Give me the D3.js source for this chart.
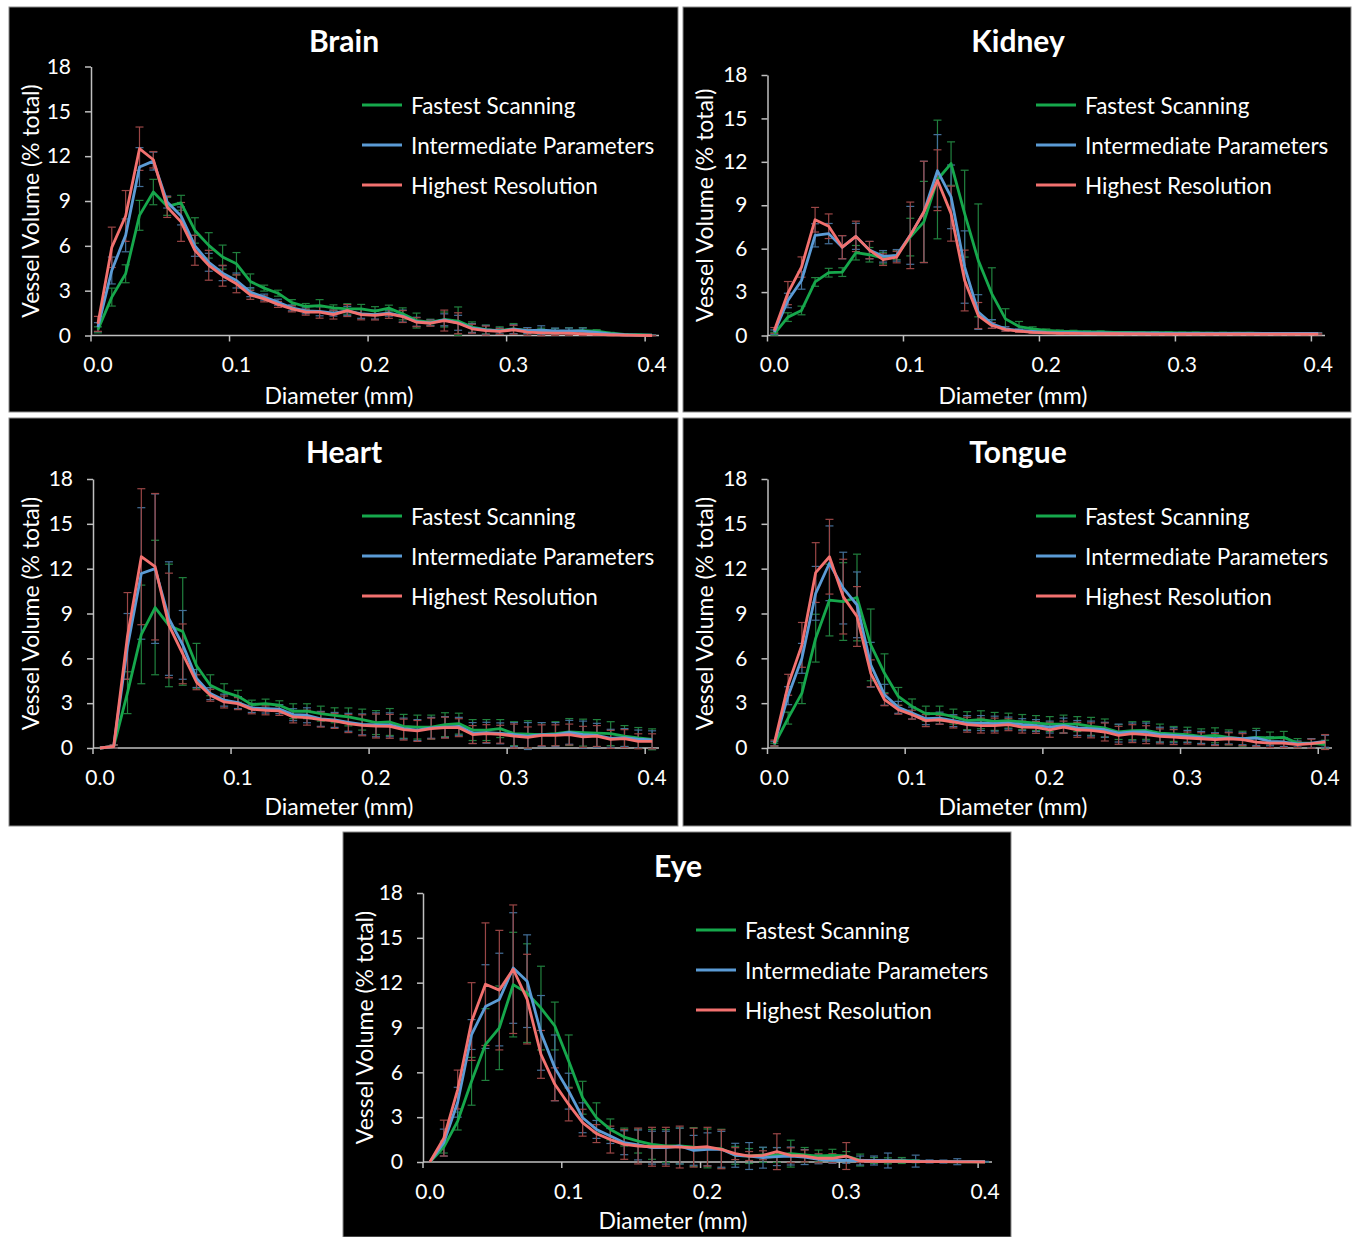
<!DOCTYPE html>
<html>
<head>
<meta charset="utf-8">
<script src="https://d3js.org/d3.v7.min.js"></script>
<style>
  body { margin: 0; background: #fff; }
  text { font-family: Lato, "Open Sans", sans-serif; fill: #fff; }
</style>
</head>
<body>
<div id="figure"></div>
<script>

// x categories, vessel diameter (mm)
var diameters = [0.00, 0.01, 0.02, 0.03, 0.04, 0.05, 0.06, 0.07, 0.08, 0.09,
                 0.10, 0.11, 0.12, 0.13, 0.14, 0.15, 0.16, 0.17, 0.18, 0.19,
                 0.20, 0.21, 0.22, 0.23, 0.24, 0.25, 0.26, 0.27, 0.28, 0.29,
                 0.30, 0.31, 0.32, 0.33, 0.34, 0.35, 0.36, 0.37, 0.38, 0.39, 0.40];
var xTickValues = [0.0, 0.1, 0.2, 0.3, 0.4];
var yTicks = [0, 3, 6, 9, 12, 15, 18];
var seriesNames = ["Fastest Scanning", "Intermediate Parameters", "Highest Resolution"];
var lineColors = ["#16a84c", "#5b9bd5", "#f2716f"];
var errColors = ["#21803e", "#436f98", "#9a4646"];

// Brain
var brainFast = [0.38, 2.57, 4.13, 8.04, 9.6, 8.64, 8.88, 7.03, 6.03, 5.25, 4.8, 3.62, 3.17, 2.83, 2.2, 1.94, 2.0, 1.85, 1.78, 1.78, 1.63, 1.83, 1.45, 1.0, 0.89, 1.07, 0.96, 0.56, 0.4, 0.33, 0.45, 0.33, 0.29, 0.27, 0.27, 0.33, 0.29, 0.16, 0.07, 0.05, 0.03];
var brainInter = [0.56, 4.35, 6.7, 11.27, 11.67, 8.93, 8.0, 6.0, 4.9, 4.17, 3.68, 2.9, 2.57, 2.23, 1.85, 1.65, 1.62, 1.5, 1.65, 1.45, 1.4, 1.5, 1.3, 0.92, 0.85, 1.05, 0.85, 0.5, 0.38, 0.3, 0.42, 0.33, 0.35, 0.3, 0.3, 0.3, 0.2, 0.1, 0.05, 0.03, 0.02];
var brainHigh = [0.78, 5.9, 8.0, 12.5, 11.76, 8.6, 7.6, 5.7, 4.7, 4.0, 3.46, 2.72, 2.45, 2.08, 1.78, 1.56, 1.56, 1.4, 1.67, 1.4, 1.34, 1.45, 1.27, 0.89, 0.82, 1.0, 0.82, 0.45, 0.33, 0.27, 0.38, 0.22, 0.18, 0.16, 0.16, 0.11, 0.07, 0.04, 0.02, 0.01, 0.0];
var brainFastErr = [0.2, 0.6, 0.6, 1.0, 0.85, 0.6, 0.5, 0.85, 0.85, 0.8, 0.75, 0.5, 0.2, 0.2, 0.2, 0.2, 0.4, 0.2, 0.35, 0.3, 0.3, 0.2, 0.4, 0.5, 0.2, 0.5, 0.95, 0.35, 0.3, 0.25, 0.35, 0.2, 0.2, 0.2, 0.25, 0.2, 0.1, 0.05, 0.05, 0.03, 0.02];
var brainInterErr = [0.3, 0.9, 1.1, 1.3, 0.6, 0.4, 0.6, 0.7, 0.6, 0.5, 0.5, 0.3, 0.2, 0.2, 0.2, 0.2, 0.3, 0.2, 0.3, 0.3, 0.3, 0.2, 0.4, 0.3, 0.2, 0.4, 0.5, 0.3, 0.3, 0.2, 0.3, 0.2, 0.3, 0.2, 0.2, 0.2, 0.1, 0.05, 0.05, 0.03, 0.02];
var brainHighErr = [0.5, 1.35, 1.7, 1.45, 0.55, 0.7, 1.3, 1.0, 1.0, 0.7, 0.6, 0.3, 0.2, 0.2, 0.2, 0.2, 0.4, 0.3, 0.4, 0.35, 0.3, 0.3, 0.4, 0.3, 0.2, 0.7, 0.7, 0.3, 0.3, 0.2, 0.3, 0.2, 0.2, 0.15, 0.15, 0.1, 0.05, 0.05, 0.03, 0.02, 0.01];

// Kidney
var kidneyFast = [0.12, 1.27, 1.73, 3.7, 4.34, 4.38, 5.72, 5.58, 5.35, 5.54, 6.8, 7.85, 10.78, 11.88, 8.42, 5.19, 2.88, 1.15, 0.62, 0.45, 0.35, 0.3, 0.28, 0.25, 0.25, 0.22, 0.22, 0.2, 0.2, 0.2, 0.18, 0.18, 0.17, 0.17, 0.16, 0.16, 0.15, 0.15, 0.15, 0.14, 0.14];
var kidneyInter = [0.23, 2.42, 3.8, 6.92, 7.04, 6.1, 6.85, 5.9, 5.47, 5.54, 6.92, 8.54, 11.38, 9.58, 4.73, 1.62, 0.8, 0.46, 0.35, 0.28, 0.22, 0.2, 0.2, 0.18, 0.18, 0.17, 0.17, 0.16, 0.16, 0.15, 0.15, 0.15, 0.14, 0.14, 0.14, 0.14, 0.14, 0.14, 0.15, 0.15, 0.14];
var kidneyHigh = [0.35, 2.93, 4.73, 8.0, 7.55, 6.1, 6.85, 5.9, 5.24, 5.42, 6.92, 8.54, 10.73, 8.42, 3.8, 1.38, 0.69, 0.4, 0.3, 0.22, 0.18, 0.15, 0.14, 0.13, 0.12, 0.12, 0.11, 0.11, 0.1, 0.1, 0.1, 0.1, 0.1, 0.1, 0.1, 0.1, 0.1, 0.1, 0.1, 0.1, 0.1];
var kidneyFastErr = [0.1, 0.3, 0.3, 0.3, 0.3, 0.3, 0.5, 0.5, 0.4, 0.3, 1.3, 2.8, 4.1, 1.5, 3.0, 3.9, 1.8, 0.7, 0.35, 0.15, 0.1, 0.08, 0.08, 0.06, 0.06, 0.05, 0.05, 0.05, 0.05, 0.05, 0.05, 0.05, 0.05, 0.05, 0.05, 0.05, 0.05, 0.05, 0.05, 0.05, 0.05];
var kidneyInterErr = [0.15, 0.5, 0.6, 0.8, 0.7, 0.8, 0.9, 0.6, 0.4, 0.4, 2.0, 3.5, 2.5, 2.2, 2.5, 1.2, 0.3, 0.15, 0.1, 0.08, 0.06, 0.06, 0.05, 0.05, 0.05, 0.05, 0.05, 0.05, 0.05, 0.05, 0.05, 0.05, 0.05, 0.05, 0.05, 0.05, 0.05, 0.05, 0.05, 0.05, 0.05];
var kidneyHighErr = [0.2, 0.8, 0.7, 0.85, 0.85, 0.8, 1.05, 0.6, 0.4, 0.4, 2.3, 3.5, 2.1, 1.9, 2.1, 0.9, 0.2, 0.1, 0.08, 0.06, 0.05, 0.05, 0.05, 0.05, 0.05, 0.05, 0.05, 0.05, 0.05, 0.05, 0.05, 0.05, 0.05, 0.05, 0.05, 0.05, 0.05, 0.05, 0.05, 0.05, 0.05];

// Heart
var heartFast = [0.0, 0.1, 3.7, 7.6, 9.4, 8.2, 7.8, 5.5, 4.2, 3.75, 3.46, 2.9, 2.97, 2.86, 2.46, 2.46, 2.3, 2.19, 2.08, 1.9, 1.7, 1.74, 1.45, 1.4, 1.4, 1.56, 1.63, 1.2, 1.2, 1.3, 0.96, 0.92, 0.9, 0.96, 1.07, 1.03, 1.0, 0.96, 0.8, 0.67, 0.58];
var heartInter = [0.0, 0.1, 6.8, 11.68, 12.0, 8.66, 6.9, 4.65, 3.64, 3.2, 3.04, 2.68, 2.64, 2.6, 2.23, 2.19, 1.95, 1.88, 1.72, 1.58, 1.55, 1.55, 1.3, 1.2, 1.35, 1.4, 1.45, 1.0, 1.02, 0.98, 0.9, 0.8, 0.9, 0.9, 1.05, 0.9, 0.85, 0.65, 0.7, 0.6, 0.55];
var heartHigh = [0.0, 0.1, 7.5, 12.8, 12.13, 8.2, 6.3, 4.4, 3.53, 3.08, 2.97, 2.59, 2.52, 2.48, 2.08, 2.03, 1.9, 1.81, 1.63, 1.52, 1.47, 1.45, 1.23, 1.14, 1.3, 1.36, 1.36, 0.9, 0.96, 0.92, 0.8, 0.71, 0.85, 0.85, 0.9, 0.75, 0.8, 0.58, 0.63, 0.45, 0.45];
var heartFastErr = [0.0, 0.1, 1.4, 3.3, 4.5, 4.1, 3.6, 1.5, 0.7, 0.55, 0.4, 0.3, 0.3, 0.3, 0.5, 0.5, 0.5, 0.5, 0.6, 0.7, 0.8, 0.9, 0.8, 0.8, 0.8, 0.8, 0.7, 0.7, 0.7, 0.6, 0.8, 0.9, 0.8, 0.8, 0.9, 0.9, 0.9, 0.8, 0.7, 0.7, 0.7];
var heartInterErr = [0.0, 0.1, 2.2, 4.4, 5.0, 3.8, 2.3, 0.6, 0.4, 0.4, 0.4, 0.3, 0.3, 0.3, 0.4, 0.5, 0.5, 0.5, 0.6, 0.7, 0.8, 0.8, 0.7, 0.7, 0.7, 0.7, 0.6, 0.7, 0.7, 0.7, 0.8, 0.9, 0.8, 0.8, 0.8, 0.9, 0.8, 0.6, 0.6, 0.6, 0.6];
var heartHighErr = [0.0, 0.1, 2.9, 4.55, 4.9, 3.5, 2.0, 0.5, 0.4, 0.4, 0.4, 0.3, 0.3, 0.3, 0.4, 0.5, 0.5, 0.5, 0.6, 0.7, 0.8, 0.8, 0.7, 0.7, 0.7, 0.7, 0.6, 0.6, 0.6, 0.6, 0.8, 0.7, 0.7, 0.7, 0.7, 0.7, 0.7, 0.6, 0.6, 0.5, 0.5];

// Tongue
var tongueFast = [0.22, 2.0, 3.67, 7.35, 9.9, 9.8, 10.07, 6.9, 5.0, 3.45, 2.78, 2.3, 2.3, 2.1, 1.83, 1.89, 1.78, 1.83, 1.74, 1.67, 1.6, 1.6, 1.6, 1.45, 1.34, 1.07, 1.16, 1.18, 1.0, 0.94, 0.89, 0.78, 0.85, 0.71, 0.62, 0.71, 0.67, 0.71, 0.33, 0.33, 0.22];
var tongueInter = [0.3, 3.5, 6.0, 10.35, 12.36, 10.7, 9.58, 5.57, 3.56, 2.72, 2.34, 1.96, 2.0, 1.83, 1.67, 1.67, 1.63, 1.67, 1.56, 1.5, 1.4, 1.5, 1.34, 1.3, 1.22, 1.0, 1.07, 1.07, 0.89, 0.85, 0.78, 0.71, 0.62, 0.67, 0.62, 0.67, 0.45, 0.4, 0.27, 0.33, 0.45];
var tongueHigh = [0.33, 4.23, 6.9, 11.74, 12.8, 10.13, 8.8, 5.0, 3.23, 2.56, 2.23, 1.83, 1.89, 1.74, 1.56, 1.5, 1.5, 1.56, 1.4, 1.38, 1.22, 1.4, 1.22, 1.18, 1.07, 0.85, 0.96, 0.89, 0.78, 0.73, 0.67, 0.62, 0.56, 0.62, 0.56, 0.4, 0.33, 0.33, 0.22, 0.29, 0.4];
var tongueFastErr = [0.1, 0.4, 0.7, 1.6, 2.4, 2.6, 2.9, 2.4, 1.3, 0.6, 0.5, 0.5, 0.5, 0.5, 0.6, 0.6, 0.6, 0.5, 0.5, 0.5, 0.5, 0.6, 0.5, 0.6, 0.6, 0.5, 0.6, 0.6, 0.6, 0.5, 0.5, 0.5, 0.5, 0.5, 0.5, 0.6, 0.4, 0.4, 0.3, 0.3, 0.3];
var tongueInterErr = [0.15, 0.6, 1.0, 1.8, 2.5, 2.4, 2.2, 1.5, 0.7, 0.4, 0.4, 0.4, 0.4, 0.4, 0.5, 0.5, 0.5, 0.4, 0.4, 0.4, 0.4, 0.5, 0.5, 0.5, 0.5, 0.6, 0.6, 0.6, 0.5, 0.5, 0.4, 0.4, 0.4, 0.4, 0.4, 0.5, 0.3, 0.3, 0.2, 0.3, 0.4];
var tongueHighErr = [0.2, 0.7, 1.5, 2.0, 2.5, 2.5, 2.0, 0.9, 0.4, 0.3, 0.3, 0.4, 0.3, 0.4, 0.5, 0.5, 0.5, 0.4, 0.4, 0.4, 0.5, 0.4, 0.5, 0.5, 0.6, 0.6, 0.6, 0.6, 0.5, 0.5, 0.4, 0.4, 0.4, 0.4, 0.4, 0.3, 0.3, 0.3, 0.2, 0.3, 0.5];

// Eye
var eyeFast = [0.0, 1.0, 2.74, 5.4, 7.86, 8.98, 11.87, 11.3, 10.3, 9.1, 6.75, 4.3, 2.96, 2.18, 1.67, 1.4, 1.18, 1.07, 1.07, 1.0, 0.91, 0.89, 0.45, 0.4, 0.47, 0.47, 0.56, 0.47, 0.4, 0.45, 0.4, 0.13, 0.1, 0.08, 0.1, 0.05, 0.03, 0.02, 0.01, 0.01, 0.01];
var eyeInter = [0.0, 1.3, 4.0, 8.53, 10.4, 10.87, 12.98, 12.1, 8.64, 6.3, 4.74, 2.96, 2.18, 1.74, 1.29, 1.14, 0.96, 0.96, 1.07, 0.78, 0.85, 0.85, 0.45, 0.4, 0.29, 0.36, 0.4, 0.33, 0.18, 0.11, 0.11, 0.1, 0.1, 0.1, 0.08, 0.06, 0.04, 0.03, 0.02, 0.02, 0.02];
var eyeHigh = [0.0, 1.6, 4.85, 9.4, 11.9, 11.5, 12.9, 10.9, 7.2, 5.2, 3.85, 2.63, 1.9, 1.5, 1.18, 1.07, 1.02, 1.02, 1.0, 0.96, 1.02, 0.85, 0.56, 0.4, 0.45, 0.69, 0.45, 0.4, 0.25, 0.25, 0.4, 0.07, 0.05, 0.05, 0.05, 0.03, 0.02, 0.02, 0.01, 0.01, 0.0];
var eyeFastErr = [0.0, 0.4, 0.6, 1.6, 2.4, 2.8, 3.5, 3.3, 2.8, 1.6, 1.75, 1.1, 1.0, 0.7, 0.6, 0.8, 1.0, 1.1, 1.2, 1.3, 1.3, 1.3, 0.6, 0.5, 0.5, 0.5, 0.9, 0.5, 0.4, 0.4, 0.3, 0.4, 0.2, 0.2, 0.2, 0.1, 0.05, 0.05, 0.02, 0.02, 0.02];
var eyeInterErr = [0.0, 0.9, 1.0, 1.0, 2.8, 3.1, 3.7, 3.1, 2.5, 2.2, 1.2, 1.0, 0.6, 0.5, 0.8, 1.0, 1.1, 1.1, 1.2, 1.0, 1.1, 1.2, 0.8, 0.9, 0.7, 0.6, 0.6, 0.5, 0.3, 0.2, 0.2, 0.3, 0.3, 0.5, 0.1, 0.4, 0.1, 0.1, 0.2, 0.05, 0.02];
var eyeHighErr = [0.0, 1.2, 1.3, 2.6, 4.1, 4.0, 4.3, 3.0, 1.6, 1.1, 1.1, 0.9, 0.6, 0.9, 1.0, 1.2, 1.3, 1.3, 1.4, 1.3, 1.3, 1.3, 0.4, 0.3, 0.3, 1.2, 0.5, 0.4, 0.3, 0.3, 0.9, 0.1, 0.05, 0.05, 0.05, 0.03, 0.02, 0.02, 0.01, 0.01, 0.0];

// panel boxes and plot areas (page pixels)
var panels = [
  {title: "Brain",  box: [9, 7, 669, 405],   plot: {left: 91,  right: 659,  top: 66.5, bottom: 335.5},
   values: [brainFast, brainInter, brainHigh], errors: [brainFastErr, brainInterErr, brainHighErr]},
  {title: "Kidney", box: [683, 7, 668, 405], plot: {left: 767.5, right: 1325, top: 75, bottom: 335.5},
   values: [kidneyFast, kidneyInter, kidneyHigh], errors: [kidneyFastErr, kidneyInterErr, kidneyHighErr]},
  {title: "Heart",  box: [9, 418, 669, 408], plot: {left: 93,  right: 659,  top: 479, bottom: 748},
   values: [heartFast, heartInter, heartHigh], errors: [heartFastErr, heartInterErr, heartHighErr]},
  {title: "Tongue", box: [683, 418, 668, 408], plot: {left: 767.5, right: 1332, top: 479, bottom: 748},
   values: [tongueFast, tongueInter, tongueHigh], errors: [tongueFastErr, tongueInterErr, tongueHighErr]},
  {title: "Eye",    box: [343, 832, 668, 405], plot: {left: 423, right: 992,  top: 893, bottom: 1162},
   values: [eyeFast, eyeInter, eyeHigh], errors: [eyeFastErr, eyeInterErr, eyeHighErr]}
];

var svg = d3.select("#figure")
  .append("svg")
    .attr("width", 1354)
    .attr("height", 1237);

panels.forEach(function(p) {
  var bx = p.box[0], by = p.box[1];

  svg.append("rect")
    .attr("x", bx).attr("y", by)
    .attr("width", p.box[2]).attr("height", p.box[3])
    .attr("fill", "#000")
    .attr("stroke", "#8a8a8a")
    .attr("stroke-width", 1);

  var g = svg.append("g");

  // scales
  var x = d3.scaleBand()
    .domain(diameters)
    .range([p.plot.left, p.plot.right])
    .padding(0);
  var y = d3.scaleLinear()
    .domain([0, 18])
    .range([p.plot.bottom, p.plot.top]);
  var cx = d => x(d) + x.bandwidth() / 2;

  // Y axis
  var yAxis = g.append("g")
    .attr("transform", `translate(${p.plot.left}, 0)`)
    .call(d3.axisLeft(y).tickValues(yTicks).tickSize(6).tickSizeOuter(0).tickPadding(14));
  yAxis.selectAll("text").style("font-size", "21px").attr("fill", "#fff");

  // X axis: labels sit under the category, marks between categories
  var xAxis = g.append("g")
    .attr("transform", `translate(0, ${p.plot.bottom})`)
    .call(d3.axisBottom(x).tickValues(xTickValues).tickFormat(d3.format(".1f")).tickSize(0).tickPadding(22));
  xAxis.select(".domain").remove();
  xAxis.selectAll("text").style("font-size", "21px").attr("fill", "#fff");
  g.selectAll("xtick")
    .data(xTickValues)
    .join("line")
      .attr("x1", d => x(d)).attr("x2", d => x(d))
      .attr("y1", p.plot.bottom).attr("y2", p.plot.bottom + 6);
  g.append("line")
    .attr("x1", p.plot.left).attr("x2", p.plot.right)
    .attr("y1", p.plot.bottom).attr("y2", p.plot.bottom);
  g.selectAll("line, path.domain")
    .attr("stroke", "#bfbfbf")
    .attr("stroke-width", 1.5);

  // error bars
  p.values.forEach(function(vals, s) {
    var err = p.errors[s];
    var eb = g.append("g")
      .attr("stroke", errColors[s])
      .attr("stroke-width", 1.2);
    diameters.forEach(function(d, i) {
      if (err[i] <= 0) return;
      var top = y(vals[i] + err[i]), bot = y(vals[i] - err[i]);
      eb.append("line").attr("x1", cx(d)).attr("x2", cx(d)).attr("y1", top).attr("y2", bot);
      eb.append("line").attr("x1", cx(d) - 4).attr("x2", cx(d) + 4).attr("y1", top).attr("y2", top);
      eb.append("line").attr("x1", cx(d) - 4).attr("x2", cx(d) + 4).attr("y1", bot).attr("y2", bot);
    });
  });

  // lines
  var line = d3.line()
    .x((v, i) => cx(diameters[i]))
    .y(v => y(v));
  p.values.forEach(function(vals, s) {
    g.append("path")
      .datum(vals)
      .attr("fill", "none")
      .attr("stroke", lineColors[s])
      .attr("stroke-width", 2.8)
      .attr("stroke-linejoin", "round")
      .attr("d", line);
  });

  // title
  g.append("text")
    .attr("x", bx + 335).attr("y", by + 33)
    .attr("text-anchor", "middle")
    .attr("dominant-baseline", "central")
    .style("font-size", "30px")
    .style("font-weight", "bold")
    .text(p.title);

  // axis titles
  g.append("text")
    .attr("x", bx + 330).attr("y", by + 388)
    .attr("text-anchor", "middle")
    .attr("dominant-baseline", "central")
    .style("font-size", "23px")
    .text("Diameter (mm)");
  g.append("text")
    .attr("transform", `translate(${bx + 21}, ${(p.plot.top + p.plot.bottom) / 2}) rotate(-90)`)
    .attr("text-anchor", "middle")
    .attr("dominant-baseline", "central")
    .style("font-size", "23px")
    .text("Vessel Volume (% total)");

  // legend
  seriesNames.forEach(function(name, s) {
    var ly = by + 98 + s * 40;
    g.append("line")
      .attr("x1", bx + 353).attr("x2", bx + 393)
      .attr("y1", ly).attr("y2", ly)
      .attr("stroke", lineColors[s])
      .attr("stroke-width", 2.8);
    g.append("text")
      .attr("x", bx + 402).attr("y", ly)
      .attr("dominant-baseline", "central")
      .style("font-size", "22.5px")
      .text(name);
  });
});

</script>
</body>
</html>
